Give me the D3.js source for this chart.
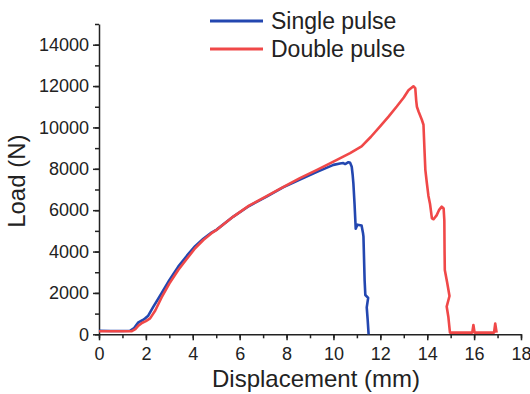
<!DOCTYPE html>
<html>
<head>
<meta charset="utf-8">
<script src="https://cdn.jsdelivr.net/npm/d3@7"></script>
<style>
  body { margin: 0; background: #fff; }
  svg { display: block; font-family: "Liberation Sans", Arial, sans-serif; }
  .axis path, .axis line { stroke: #222; }
  .axis text { fill: #222; font-size: 18px; }
</style>
</head>
<body>
<svg id="chart" width="530" height="394"></svg>
<script>
// series values (displacement in mm, load in N)
const singleX = [0, 0.5, 1.0, 1.32, 1.5, 1.68, 1.85, 1.96, 2.1, 2.32, 2.67, 3.0, 3.38, 3.75, 4.1, 4.45, 4.8, 5.02, 5.73, 6.4, 7.15, 7.85, 8.57, 9.3, 10.0, 10.28, 10.42, 10.5, 10.64, 10.71, 10.78, 10.82, 10.85, 10.9, 10.95, 11.02, 11.2, 11.26, 11.28, 11.33, 11.36, 11.48, 11.42, 11.46, 11.5];
const singleY = [170, 160, 160, 170, 300, 580, 680, 760, 900, 1335, 1985, 2620, 3270, 3800, 4260, 4620, 4920, 5060, 5690, 6200, 6660, 7100, 7480, 7850, 8190, 8260, 8280, 8230, 8320, 8290, 8100, 7700, 7300, 6300, 5100, 5300, 5260, 4900, 4720, 2600, 1900, 1760, 1300, 700, 0];

const doubleX = [0, 0.5, 1.0, 1.4, 1.55, 1.68, 1.85, 2.0, 2.18, 2.4, 2.67, 3.0, 3.38, 3.75, 4.1, 4.45, 4.8, 5.02, 5.73, 6.4, 7.15, 7.85, 8.57, 9.3, 10.0, 10.71, 11.2, 11.6, 11.99, 12.35, 12.7, 13.0, 13.2, 13.41, 13.49, 13.53, 13.56, 13.63, 13.77, 13.84, 13.88, 13.92, 13.98, 14.05, 14.12, 14.2, 14.27, 14.4, 14.5, 14.62, 14.7, 14.73, 14.74, 14.75, 14.85, 14.95, 14.83, 14.9, 14.95, 14.97, 15.2, 15.92, 15.97, 16.02, 16.85, 16.9, 16.96];
const doubleY = [150, 150, 150, 150, 250, 420, 560, 640, 770, 1150, 1780, 2450, 3110, 3650, 4160, 4560, 4890, 5050, 5690, 6220, 6680, 7110, 7550, 7950, 8350, 8760, 9080, 9550, 10050, 10520, 11010, 11450, 11800, 11990, 11900, 11300, 11000, 10770, 10370, 10130, 9000, 7950, 7350, 6700, 6300, 5600, 5560, 5750, 6000, 6170, 6080, 5500, 4000, 3110, 2500, 1850, 1340, 850, 300, 80, 80, 80, 450, 80, 80, 520, 80];

const seriesNames = ["Single pulse", "Double pulse"];
const seriesColors = ["#2347b0", "#f04848"];

const xTicks = [0, 2, 4, 6, 8, 10, 12, 14, 16, 18];
const yTicks = [0, 2000, 4000, 6000, 8000, 10000, 12000, 14000];

const svg = d3.select("#chart");
const plotLeft = 99, plotRight = 521, plotTop = 24, plotBottom = 334.3;

const x = d3.scaleLinear().domain([0, 18]).range([plotLeft, plotRight]);
const y = d3.scaleLinear().domain([0, 15000]).range([plotBottom, plotTop]);

// minor ticks first, majors on top
svg.append("g").attr("class", "axis")
  .attr("transform", "translate(0," + plotBottom + ")")
  .call(d3.axisBottom(x).tickValues(d3.range(0, 19, 1)).tickSize(4).tickFormat(""))
  .call(g => g.select(".domain").remove());
svg.append("g").attr("class", "axis")
  .attr("transform", "translate(" + plotLeft + ",0)")
  .call(d3.axisLeft(y).tickValues(d3.range(0, 15001, 1000)).tickSize(4).tickFormat(""))
  .call(g => g.select(".domain").remove());

svg.append("g").attr("class", "axis")
  .attr("transform", "translate(0," + plotBottom + ")")
  .call(d3.axisBottom(x).tickValues(xTicks).tickSize(6).tickSizeOuter(0).tickPadding(7));
svg.append("g").attr("class", "axis")
  .attr("transform", "translate(" + plotLeft + ",0)")
  .call(d3.axisLeft(y).tickValues(yTicks).tickSize(6).tickSizeOuter(0).tickPadding(4).tickFormat(d3.format("d")));
svg.selectAll(".axis path, .axis line").attr("stroke-width", 1.5);

// curves
const line = d3.line().x(d => x(d[0])).y(d => y(d[1]));
const singleData = singleX.map((v, i) => [v, singleY[i]]);
const doubleData = doubleX.map((v, i) => [v, doubleY[i]]);

svg.append("path").datum(singleData)
  .attr("d", line).attr("fill", "none")
  .attr("stroke", seriesColors[0]).attr("stroke-width", 2.6).attr("stroke-linejoin", "round");
svg.append("path").datum(doubleData)
  .attr("d", line).attr("fill", "none")
  .attr("stroke", seriesColors[1]).attr("stroke-width", 2.6).attr("stroke-linejoin", "round");

// axis titles
svg.append("text").attr("x", (plotLeft + plotRight) / 2 + 6).attr("y", 387)
  .attr("text-anchor", "middle").attr("font-size", 24).attr("fill", "#222")
  .text("Displacement (mm)");
svg.append("text").attr("transform", "translate(25," + ((plotTop + plotBottom) / 2 + 2) + ") rotate(-90)")
  .attr("text-anchor", "middle").attr("font-size", 24).attr("fill", "#222")
  .text("Load (N)");

// legend
const legend = svg.append("g").attr("transform", "translate(210,21)");
seriesNames.forEach(function (name, i) {
  legend.append("line")
    .attr("x1", 0).attr("x2", 53).attr("y1", i * 28).attr("y2", i * 28)
    .attr("stroke", seriesColors[i]).attr("stroke-width", 3);
  legend.append("text")
    .attr("x", 61).attr("y", i * 28 + 7.5)
    .attr("font-size", 23).attr("fill", "#222")
    .text(name);
});
</script>
</body>
</html>
